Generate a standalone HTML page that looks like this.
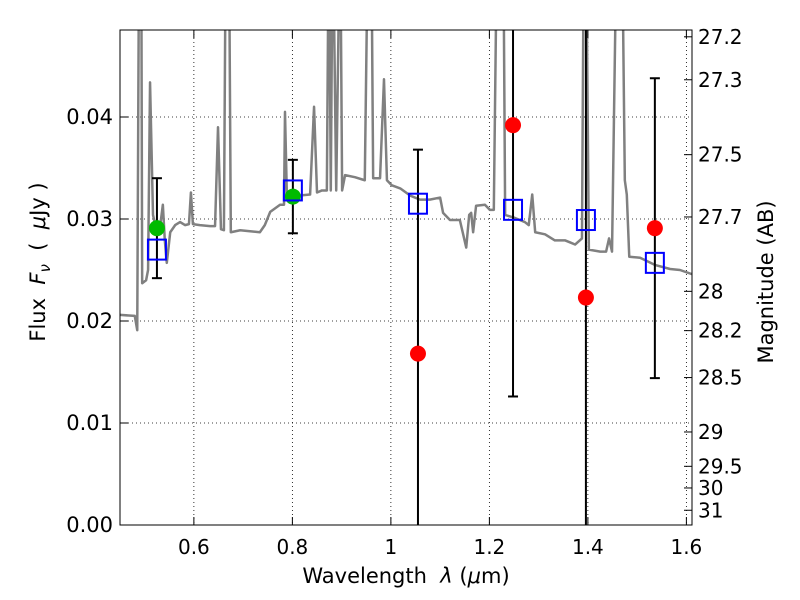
<!DOCTYPE html>
<html><head><meta charset="utf-8"><style>
html,body{margin:0;padding:0;background:#fff;width:800px;height:600px;overflow:hidden}
svg{display:block;font-family:"DejaVu Sans","Liberation Sans",sans-serif}
text{white-space:pre}
</style></head><body>
<svg id="chart" width="800" height="600"></svg>
<script>
const specLam=[0.450,0.480,0.485,0.489,0.493,0.495,0.503,0.507,0.511,0.517,0.523,0.531,0.537,0.541,0.545,0.552,0.562,0.572,0.582,0.590,0.594,0.598,0.612,0.633,0.643,0.649,0.655,0.661,0.665,0.671,0.675,0.694,0.714,0.734,0.744,0.755,0.775,0.783,0.785,0.789,0.795,0.815,0.836,0.844,0.850,0.860,0.870,0.874,0.878,0.882,0.889,0.897,0.901,0.907,0.927,0.947,0.954,0.960,0.964,0.978,0.986,0.992,1.002,1.019,1.039,1.059,1.079,1.100,1.106,1.120,1.140,1.153,1.159,1.163,1.167,1.173,1.191,1.201,1.209,1.216,1.228,1.232,1.252,1.272,1.280,1.287,1.293,1.313,1.333,1.354,1.364,1.374,1.388,1.392,1.396,1.402,1.425,1.437,1.443,1.449,1.459,1.469,1.475,1.479,1.484,1.506,1.536,1.567,1.587,1.611];
const specFlux=[0.0206,0.0205,0.0191,0.06,0.06,0.0237,0.0240,0.0250,0.0434,0.0304,0.0291,0.0291,0.0314,0.0279,0.0257,0.0287,0.0294,0.0297,0.0294,0.0295,0.0326,0.0295,0.0294,0.0293,0.0293,0.0390,0.0290,0.0289,0.06,0.06,0.0287,0.0289,0.0288,0.0287,0.0294,0.0307,0.0314,0.0314,0.0405,0.0319,0.0321,0.0323,0.0324,0.0410,0.0326,0.0328,0.0328,0.06,0.0328,0.06,0.0328,0.06,0.0328,0.0343,0.0341,0.0338,0.06,0.06,0.0340,0.0340,0.0437,0.0338,0.0333,0.0330,0.0323,0.0319,0.0319,0.0321,0.0306,0.0299,0.0299,0.0272,0.0304,0.0306,0.0287,0.0313,0.0314,0.0309,0.0309,0.06,0.06,0.0304,0.0301,0.0297,0.0294,0.0324,0.0287,0.0285,0.0279,0.0279,0.0277,0.0275,0.0281,0.06,0.06,0.0270,0.0268,0.0268,0.0281,0.0268,0.06,0.06,0.0338,0.0324,0.0263,0.0262,0.0255,0.0251,0.0250,0.0246];
const filtLam=[0.525,0.801,1.055,1.248,1.396,1.536];
const modelFlux=[0.0270,0.0328,0.0315,0.0309,0.0299,0.0257];
const obsFlux=[0.0291,0.0322,0.0168,0.0392,0.0223,0.0291];
const obsErr=[0.0049,0.0036,0.0200,0.0266,0.0500,0.0147];
const obsColor=['#00bb00','#00bb00','red','red','red','red'];
const xTicks=[0.6,0.8,1.0,1.2,1.4,1.6];
const xTickLabels=['0.6','0.8','1','1.2','1.4','1.6'];
const yTicks=[0,0.01,0.02,0.03,0.04];
const yTickLabels=['0.00','0.01','0.02','0.03','0.04'];
const magTicks=[27.2,27.3,27.5,27.7,28,28.2,28.5,29,29.5,30,31];

const L=120,R=692,T=30,B=525,XMIN=0.45,XMAX=1.6114,YMIN=0,YMAX=0.04853;
const sx=v=>L+(v-XMIN)/(XMAX-XMIN)*(R-L);
const sy=v=>B-(v-YMIN)/(YMAX-YMIN)*(B-T);
const NS='http://www.w3.org/2000/svg';
const svg=document.getElementById('chart');
function mk(tag,attrs,parent){const e=document.createElementNS(NS,tag);for(const k in attrs)e.setAttribute(k,attrs[k]);(parent||svg).appendChild(e);return e;}
const defs=mk('defs',{});const cp=mk('clipPath',{id:'clip'},defs);mk('rect',{x:L,y:T,width:R-L,height:B-T},cp);

xTicks.forEach(v=>{const g=mk('line',{x1:sx(v),x2:sx(v),y1:T,y2:B,stroke:'#000','stroke-width':0.8,'stroke-dasharray':'1,3'});

});
yTicks.forEach(v=>{const g=mk('line',{x1:L,x2:R,y1:sy(v),y2:sy(v),stroke:'#000','stroke-width':0.8,'stroke-dasharray':'1,3'});

});

const plot=mk('g',{'clip-path':'url(#clip)'});


const spec=mk('polyline',{points:specLam.map((l,i)=>sx(l)+','+sy(specFlux[i])).join(' '),fill:'none',stroke:'#808080','stroke-width':2.5,'stroke-linejoin':'round'},plot);



filtLam.forEach((l,i)=>{
 const x=sx(l),y=sy(obsFlux[i]),y1=sy(obsFlux[i]+obsErr[i]),y2=sy(obsFlux[i]-obsErr[i]);
 const eb=mk('g',{},plot);
 
 
 mk('line',{x1:x,x2:x,y1:y1,y2:y2,stroke:'#000','stroke-width':2},eb);
 mk('line',{x1:x-5,x2:x+5,y1:y1,y2:y1,stroke:'#000','stroke-width':2},eb);
 mk('line',{x1:x-5,x2:x+5,y1:y2,y2:y2,stroke:'#000','stroke-width':2},eb);
 const c=mk('circle',{cx:x,cy:y,r:8,fill:obsColor[i]},plot);
 
 
 const ym=sy(modelFlux[i]);
 const s=mk('rect',{x:x-9,y:ym-10,width:18,height:20,fill:'none',stroke:'#0000ff','stroke-width':2},plot);
 
 
});

const fr=mk('rect',{x:L,y:T,width:R-L,height:B-T,fill:'none',stroke:'#000','stroke-width':1});



xTicks.forEach((v,i)=>{const x=sx(v);
 mk('line',{x1:x,x2:x,y1:B,y2:B-8,stroke:'#000'});mk('line',{x1:x,x2:x,y1:T,y2:T+8,stroke:'#000'});
 const t=mk('text',{x:x,y:B+29,'font-size':20,'text-anchor':'middle'});t.textContent=xTickLabels[i];
 
 });
yTicks.forEach((v,i)=>{const y=sy(v);
 mk('line',{x1:L,x2:L+8,y1:y,y2:y,stroke:'#000'});
 const t=mk('text',{x:L-7,y:y+7,'font-size':21,'text-anchor':'end'});t.textContent=yTickLabels[i];
 
 });
magTicks.forEach(m=>{const y=sy(Math.pow(10,(23.9-m)/2.5));
 mk('line',{x1:R,x2:R-8,y1:y,y2:y,stroke:'#000'});
 const t=mk('text',{x:R+6,y:y+7,'font-size':20});t.textContent=String(m);
 
 });

const xt=mk('text',{x:406,y:583,'font-size':21,'text-anchor':'middle'});


xt.innerHTML='Wavelength  <tspan font-style="italic">λ</tspan> (<tspan font-style="italic">μ</tspan>m)';
const yt=mk('text',{transform:'translate(45,262) rotate(-90)','font-size':21,'text-anchor':'middle'});


yt.innerHTML='Flux  <tspan font-style="italic">F</tspan><tspan font-style="italic" font-size="15" dy="5">ν</tspan><tspan dy="-5">  (  </tspan><tspan font-style="italic">μ</tspan>Jy )';
const rt=mk('text',{transform:'translate(773,282) rotate(-90)','font-size':21,'text-anchor':'middle'});


rt.textContent='Magnitude (AB)';
</script>
</body></html>
